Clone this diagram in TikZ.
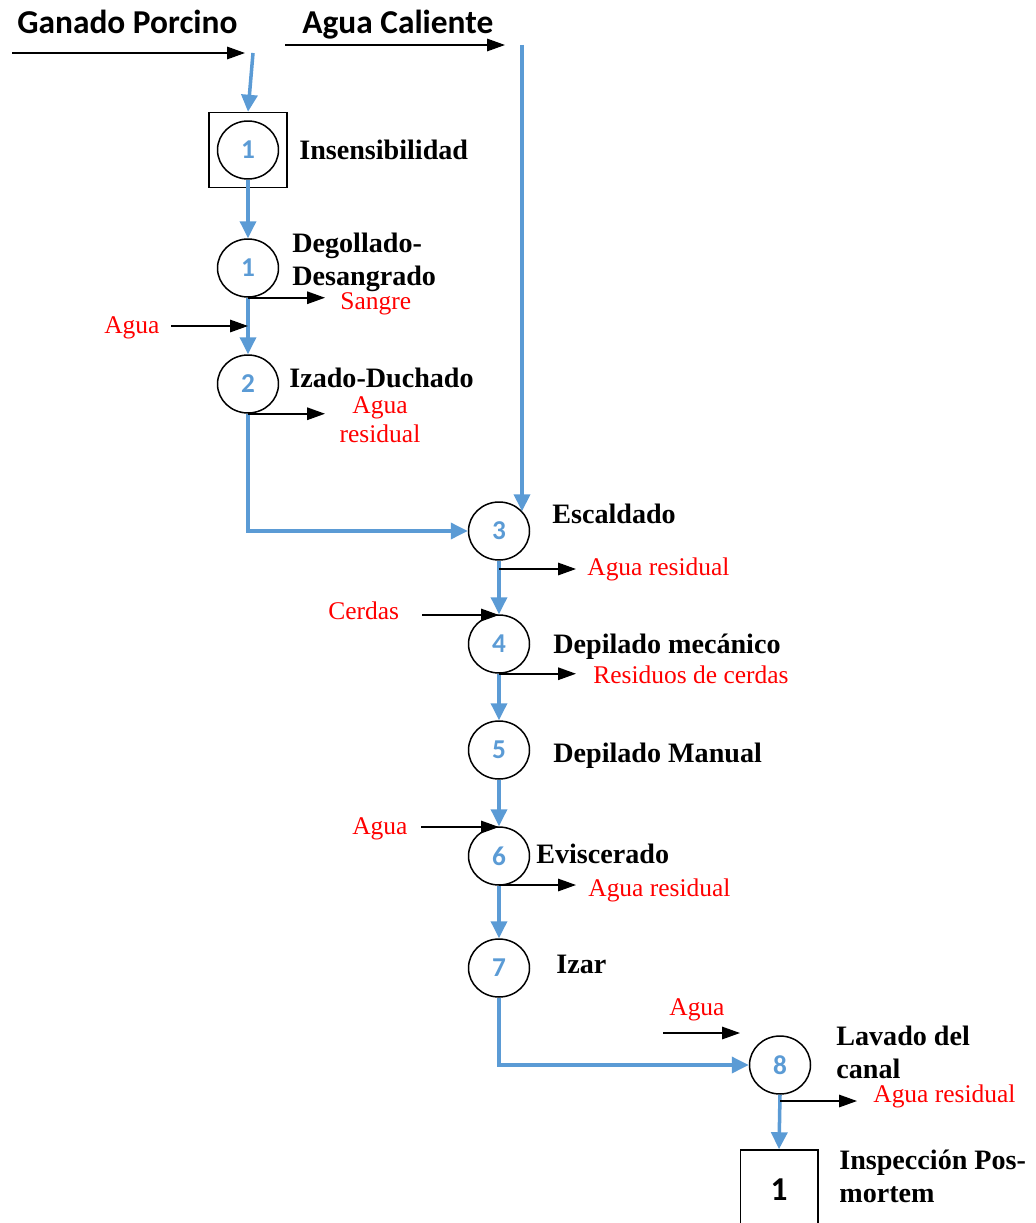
\documentclass[tikz,border=0pt]{standalone}
\usepackage{fontspec}
\setmainfont{Liberation Serif}
\newfontfamily\calibri{Carlito}
\usepackage{tikz}
\usetikzlibrary{shapes.geometric, arrows.meta, positioning}
\definecolor{flowblue}{RGB}{91,155,213}
\definecolor{inred}{RGB}{255,0,0}

\begin{document}
\begin{tikzpicture}[x=0.02cm, y=-0.02cm,
  proc/.style={ellipse, draw, line width=0.85pt, minimum width=1.22cm, minimum height=1.16cm, inner sep=0pt, text=flowblue, font=\calibri\bfseries\fontsize{15.5}{17}\selectfont},
  stage/.style={anchor=base west, align=left, inner sep=0pt, font=\bfseries\fontsize{16}{18.7}\selectfont},
  stream/.style={anchor=base west, align=left, inner sep=0pt, text=inred, font=\fontsize{14.5}{16.5}\selectfont},
  feed/.style={anchor=base west, inner sep=0pt, font=\calibri\bfseries\fontsize{19}{20}\selectfont},
  flow/.style={draw=flowblue, line width=2pt, -{Triangle[length=0.34cm, width=0.32cm]}},
  side/.style={line width=0.9pt, -{Triangle[length=0.36cm, width=0.25cm]}}]
\useasboundingbox (0,0) rectangle (1035,1223);

% raw materials
\node[feed] (ganado) at (17,34) {Ganado Porcino};
\node[feed] (caliente) at (302,34) {Agua Caliente};
\coordinate (gIn) at (12,53);
\coordinate (gOut) at (245,53);
\coordinate (gDrop) at (253,53);
\coordinate (cIn) at (285,45);
\coordinate (cOut) at (505,45);
\coordinate (cDrop) at (522,45);

% operations
\node[draw, line width=0.85pt, minimum width=1.56cm, minimum height=1.5cm] (sq) at (248,150) {};
\node[proc] (p0) at (248,150) {1};
\node[proc] (p1) at (248,268) {1};
\node[proc] (p2) at (248,384) {2};
\node[proc] (p3) at (499,531) {3};
\node[proc] (p4) at (499,644) {4};
\node[proc] (p5) at (499,750) {5};
\node[proc] (p6) at (499,856) {6};
\node[proc] (p7) at (499,968) {7};
\node[proc] (p8) at (780,1065) {8};
\node[draw, line width=0.85pt, minimum width=1.55cm, minimum height=1.6cm, font=\calibri\bfseries\fontsize{19}{20}\selectfont] (insp) at (779,1190) {1};

\node[stage] (l0) at (299,160) {Insensibilidad};
\node[stage] (l1) at (292,285) {Degollado-\\Desangrado};
\node[stage] (l2) at (289,387) {Izado-Duchado};
\node[stage] (l3) at (552,523) {Escaldado};
\node[stage] (l4) at (553,653) {Depilado mecánico};
\node[stage] (l5) at (553,762) {Depilado Manual};
\node[stage] (l6) at (536,863) {Eviscerado};
\node[stage] (l7) at (556,973) {Izar};
\node[stage] (l8) at (836,1078) {Lavado del\\canal};
\node[stage] (l9) at (839,1202) {Inspección Pos-\\mortem};

% inputs and outputs
\node[stream] (sangre) at (340,309) {Sangre};
\node[stream] (agua1) at (104,333) {Agua};
\node[stream, anchor=base, align=center] (res2) at (380,442) {Agua\\residual};
\node[stream] (res3) at (587,575) {Agua residual};
\node[stream] (cerdas) at (328,619) {Cerdas};
\node[stream] (res4) at (593,683) {Residuos de cerdas};
\node[stream] (agua6) at (352,834) {Agua};
\node[stream] (res6) at (588,896) {Agua residual};
\node[stream] (agua8) at (669,1015) {Agua};
\node[stream] (res8) at (873,1102) {Agua residual};

\coordinate (w1) at (171,326);
\coordinate (cerIn) at (422,615);
\coordinate (w6) at (421,827);
\coordinate (w8) at (663,1033);
\coordinate (w8e) at (740,1033);
\coordinate (o1) at (325,297);
\coordinate (o2) at (325,413);
\coordinate (o3) at (576,569);
\coordinate (o4) at (576,673);
\coordinate (o6) at (576,885);
\coordinate (o8) at (857,1101);

\draw[side] (gIn) -- (gOut);
\draw[side] (cIn) -- (cOut);
\draw[flow] (gDrop) -- (sq.north);
\draw[flow] (cDrop) -- (cDrop |- p3.40);
\draw[flow] (p0.south) -- (p1.north);
\draw[flow] (p1.south) -- (p2.north);
\draw[flow] (p2.south) |- (p3.west);
\draw[flow] (p3.south) -- (p4.north);
\draw[flow] (p4.south) -- (p5.north);
\draw[flow] (p5.south) -- (p6.north);
\draw[flow] (p6.south) -- (p7.north);
\draw[flow] (p7.south) |- (p8.west);
\draw[flow] (p8.south) -- (insp.north);

\draw[side] (w1) -- (w1 -| p1.south);
\draw[side] (cerIn) -- (cerIn -| p4.north);
\draw[side] (w6) -- (w6 -| p6.north);
\draw[side] (w8) -- (w8e);
\draw[side] (p1.south) -- (p1.south -| o1);
\draw[side] (p2.south) -- (p2.south -| o2);
\draw[side] (p3.south |- o3) -- (o3);
\draw[side] (p4.south) -- (p4.south -| o4);
\draw[side] (p6.south |- o6) -- (o6);
\draw[side] (p8.south |- o8) -- (o8);
\end{tikzpicture}
\end{document}
